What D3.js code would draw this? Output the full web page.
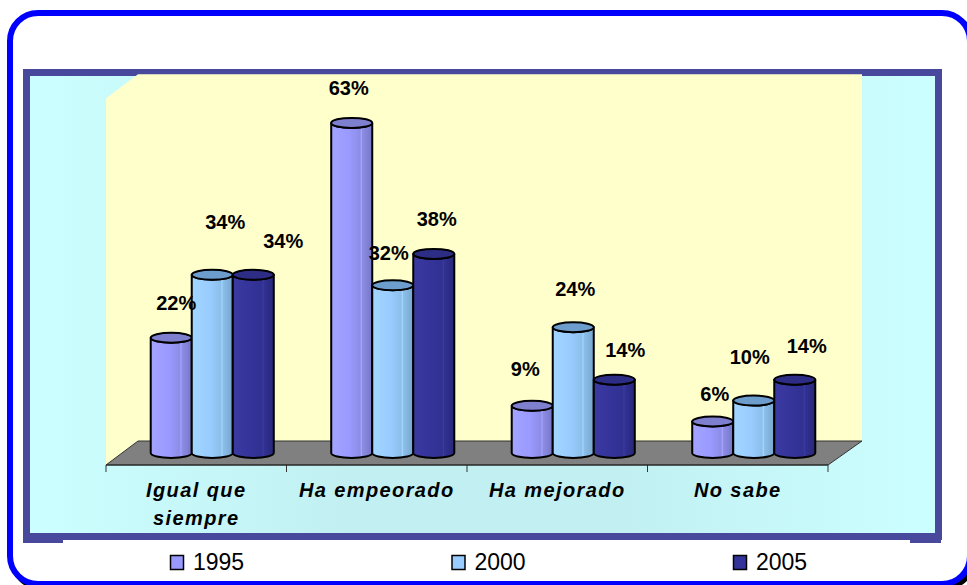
<!DOCTYPE html>
<html>
<head>
<meta charset="utf-8">
<script src="https://cdn.jsdelivr.net/npm/d3@7"></script>
<style>
  body { margin: 0; background: #fff; }
  svg { display: block; font-family: "Liberation Sans", Arial, sans-serif; }
</style>
</head>
<body>
<svg id="chart" width="967" height="585"></svg>
<script>
// data
const categories = ["Igual que siempre", "Ha empeorado", "Ha mejorado", "No sabe"];
const tickLabels = [["Igual que", "siempre"], ["Ha empeorado"], ["Ha mejorado"], ["No sabe"]];
const years = ["1995", "2000", "2005"];
const values1995 = [22, 63, 9, 6];
const values2000 = [34, 32, 24, 10];
const values2005 = [34, 38, 14, 14];
const seriesValues = [values1995, values2000, values2005];

// label nudges (px) per series, per category - the source chart shifts some labels
const labelNudge = [
  [[5, 0], [-3, 0], [-7, -2], [2, 7]],
  [[13, -18], [-4, 3], [2, -3], [-4, -9]],
  [[30, 1], [3, 0], [11, 5], [12, 1]]
];

const colors = {
  "1995": { base: "#9999ff", light: "#a4a4ff", mid: "#8d8de6", dark: "#7676c6", cap: "#7f7fcf" },
  "2000": { base: "#99ccff", light: "#a2d6ff", mid: "#8cbfe9", dark: "#76a6cf", cap: "#6c9dcc" },
  "2005": { base: "#333399", light: "#3a3aa2", mid: "#313192", dark: "#27277a", cap: "#2d2d86" }
};

const svg = d3.select("#chart");
const defs = svg.append("defs");

// plot-area fill gradient
const bg = defs.append("linearGradient").attr("id", "bgGrad");
bg.append("stop").attr("offset", "0%").attr("stop-color", "#ccffff");
bg.append("stop").attr("offset", "35%").attr("stop-color", "#c2f0f2");
bg.append("stop").attr("offset", "65%").attr("stop-color", "#c2f0f2");
bg.append("stop").attr("offset", "100%").attr("stop-color", "#ccffff");

years.forEach(yr => {
  const c = colors[yr];
  const g = defs.append("linearGradient").attr("id", "bar" + yr);
  [[0, c.light], [0.45, c.base], [0.7, c.mid], [0.74, c.light], [0.76, c.mid], [1, c.dark]]
    .forEach(s => g.append("stop").attr("offset", s[0]).attr("stop-color", s[1]));
});

// outer frame
svg.append("rect").attr("x", 13).attr("y", 16).attr("width", 960).attr("height", 571)
  .attr("rx", 28).attr("fill", "none").attr("stroke", "#000").attr("stroke-width", 6);
svg.append("rect").attr("x", 10).attr("y", 13).attr("width", 960).attr("height", 571)
  .attr("rx", 28).attr("fill", "#fff").attr("stroke", "#0000ff").attr("stroke-width", 6);

// plot area
svg.append("rect").attr("x", 23).attr("y", 503).attr("width", 40).attr("height", 40).attr("fill", "#48489c");
svg.append("rect").attr("x", 910).attr("y", 503).attr("width", 31).attr("height", 40).attr("fill", "#48489c");
svg.append("rect").attr("x", 26.5).attr("y", 72.5).attr("width", 912).attr("height", 464)
  .attr("fill", "url(#bgGrad)").attr("stroke", "#48489c").attr("stroke-width", 7);

// scales
const x0 = 106, x1 = 828, baseY = 465;
const depth = { dx: 32, dy: -24 };
const x = d3.scaleBand().domain(categories).range([x0, x1]);
const xs = d3.scaleBand().domain(years).range([0, x.bandwidth()]).paddingOuter(0.7);
const y = d3.scaleLinear().domain([0, 70]).range([baseY, baseY - 70 * 5.24]);

const topY = y(70);
// walls
svg.append("polygon")
  .attr("points", [[x0, topY], [x0 + depth.dx, topY + depth.dy], [x0 + depth.dx, baseY + depth.dy], [x0, baseY]].join(" "))
  .attr("fill", "#ffffcc");
svg.append("polygon")
  .attr("points", [[x0 + depth.dx, topY + depth.dy], [x1 + depth.dx + 2, topY + depth.dy], [x1 + depth.dx + 2, baseY + depth.dy], [x0 + depth.dx, baseY + depth.dy]].join(" "))
  .attr("fill", "#ffffcc");
// floor
svg.append("polygon")
  .attr("points", [[x0, baseY], [x0 + depth.dx, baseY + depth.dy], [x1 + depth.dx + 2, baseY + depth.dy], [x1, baseY]].join(" "))
  .attr("fill", "#808080").attr("stroke", "#333").attr("stroke-width", 1);

// axis ticks
const tickPos = categories.map(c => x(c)).concat([x1]);
svg.append("g").selectAll("line").data(tickPos).join("line")
  .attr("x1", d => d).attr("x2", d => d).attr("y1", baseY).attr("y2", baseY + 7)
  .attr("stroke", "#333").attr("stroke-width", 1);
svg.append("line").attr("x1", x0).attr("x2", x1).attr("y1", baseY).attr("y2", baseY)
  .attr("stroke", "#222").attr("stroke-width", 1.2);

// bars at mid depth
const midDx = depth.dx / 2, midDy = depth.dy / 2;
const rx = xs.bandwidth() / 2, ry = 5;
const barData = [];
categories.forEach((c, ci) => {
  years.forEach((yr, si) => {
    const v = seriesValues[si][ci];
    const cx = x(c) + xs(yr) + rx + midDx;
    barData.push({ c, yr, v, cx, yt: y(v) + midDy, yb: y(0) + midDy, nudge: labelNudge[si][ci] });
  });
});

function barPath(d) {
  const l = d.cx - rx, r = d.cx + rx;
  return `M${l},${d.yt} L${l},${d.yb} A${rx},${ry} 0 0 0 ${r},${d.yb} L${r},${d.yt} A${rx},${ry} 0 0 1 ${l},${d.yt} Z`;
}

const bars = svg.append("g").selectAll("g").data(barData).join("g");
bars.append("path").attr("d", barPath)
  .attr("fill", d => `url(#bar${d.yr})`).attr("stroke", "#000").attr("stroke-width", 2)
  .attr("stroke-linejoin", "round");
bars.append("ellipse").attr("cx", d => d.cx).attr("cy", d => d.yt).attr("rx", rx).attr("ry", ry)
  .attr("fill", d => colors[d.yr].cap).attr("stroke", "#000").attr("stroke-width", 2);

// value labels
svg.append("g").selectAll("text").data(barData).join("text")
  .attr("x", d => d.cx + d.nudge[0])
  .attr("y", d => d.yt - 28 + d.nudge[1])
  .attr("text-anchor", "middle")
  .attr("font-size", 20).attr("font-weight", "bold").attr("fill", "#000")
  .text(d => d.v + "%");

// category labels
const catG = svg.append("g").selectAll("text").data(categories).join("text")
  .attr("text-anchor", "middle")
  .attr("font-size", 20).attr("font-weight", "bold").attr("font-style", "italic")
  .attr("letter-spacing", 1.4)
  .attr("x", d => x(d) + x.bandwidth() / 2)
  .attr("y", 497);
catG.each(function (d, i) {
  d3.select(this).selectAll("tspan").data(tickLabels[i]).join("tspan")
    .attr("x", x(d) + x.bandwidth() / 2)
    .attr("dy", (t, j) => j === 0 ? 0 : 28)
    .text(t => t);
});

// legend
const legendX = d3.scalePoint().domain(years).range([170, 733]);
const leg = svg.append("g").selectAll("g").data(years).join("g")
  .attr("transform", d => `translate(${legendX(d)},555)`);
leg.append("rect").attr("x", 0.5).attr("y", 0.5).attr("width", 13).attr("height", 14)
  .attr("fill", d => colors[d].base).attr("stroke", "#000").attr("stroke-width", 1.5);
leg.append("text").attr("x", 23).attr("y", 15).attr("font-size", 23).attr("fill", "#000")
  .text(d => d);
</script>
</body>
</html>
